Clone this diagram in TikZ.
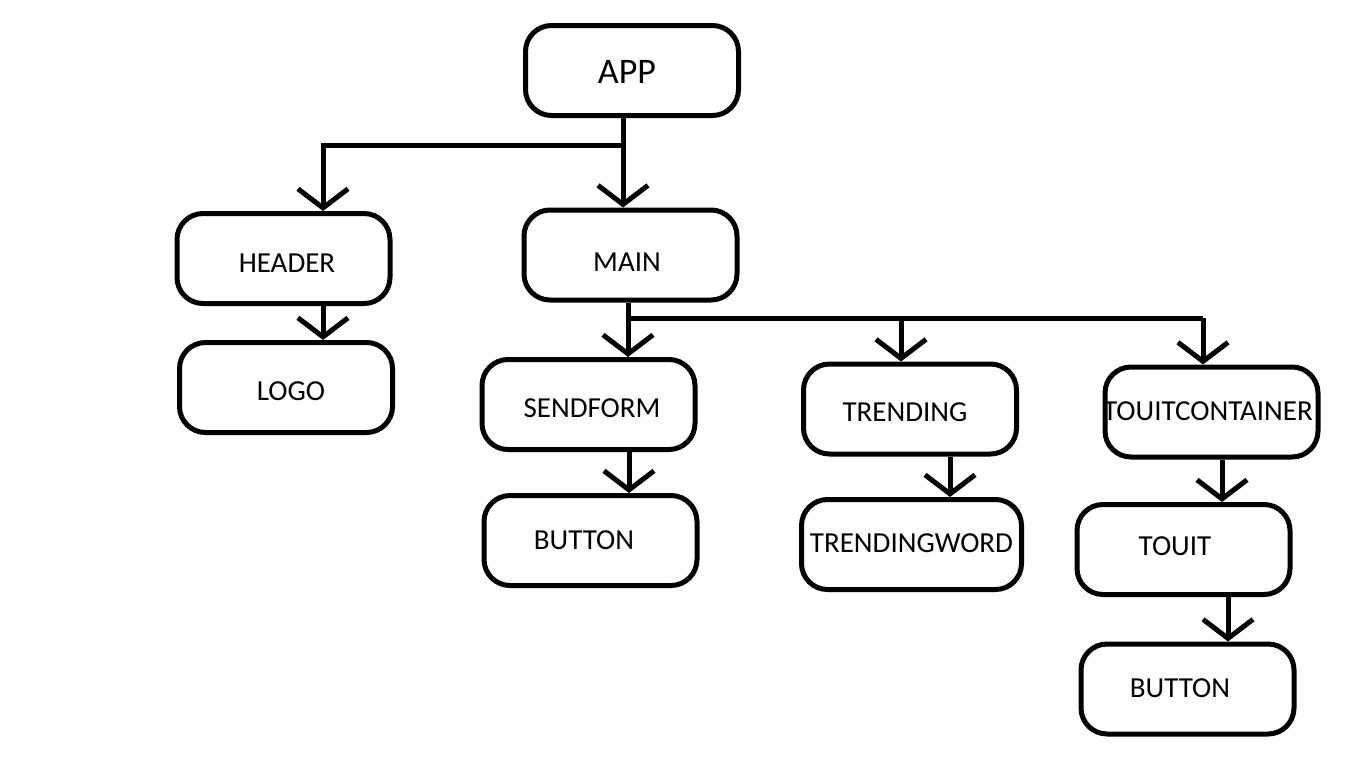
\documentclass[tikz,border=0pt]{standalone}
\usepackage{fontspec}
\setmainfont{Carlito}
\usetikzlibrary{arrows.meta}
\begin{document}
\begin{tikzpicture}[x=1pt,y=-1pt,
  box/.style={draw=black, line width=5pt, rounded corners=26pt, minimum width=213pt, minimum height=90pt, inner sep=0pt},
  txt/.style={font=\fontsize{29}{33}\selectfont, inner sep=0pt},
  bigtxt/.style={font=\fontsize{36}{40}\selectfont, inner sep=0pt},
  conn/.style={line width=5pt},
  arr/.style={conn, -{Straight Barb[length=19pt, width=50pt, line width=5pt]}}]
\useasboundingbox (0,0) rectangle (1370,761);
\fill[white] (0,0) rectangle (1370,761);
\node[box, label={[bigtxt,xshift=-5pt,yshift=-1.5pt]center:APP}] (app) at (632,70.5) {};
\node[box, label={[txt,xshift=3.5pt,yshift=-4.5pt]center:HEADER}] (header) at (283.5,258.5) {};
\node[box, label={[txt,xshift=-3.5pt,yshift=-7pt]center:MAIN}] (main) at (630.5,255) {};
\node[box, label={[txt,xshift=5pt,yshift=-3.5pt]center:LOGO}] (logo) at (286,387.5) {};
\node[box, label={[txt,xshift=3.5pt,yshift=-3.5pt]center:SENDFORM}] (sendform) at (588.5,404.5) {};
\node[box, label={[txt,xshift=-5pt,yshift=-3pt]center:TRENDING}] (trending) at (910,409) {};
\node[box, label={[txt,xshift=-3.5pt,yshift=1pt]center:TOUITCONTAINER}] (touitc) at (1211.5,412) {};
\node[box, label={[txt,xshift=-6.5pt]center:BUTTON}] (button1) at (590.5,540.5) {};
\node[box, minimum width=220pt, label={[txt,yshift=1.5pt]center:TRENDINGWORD}] (tword) at (911.5,544.5) {};
\node[box, label={[txt,xshift=-8.5pt,yshift=3.5pt]center:TOUIT}] (touit) at (1183.5,549.5) {};
\node[box, label={[txt,xshift=-7.5pt,yshift=1pt]center:BUTTON}] (button2) at (1187.5,689) {};
% junctions
\coordinate (j1) at (623,145);
\coordinate (h1) at (323,145);
\coordinate (j2) at (628,318);
\coordinate (t1) at (901,318);
\coordinate (c1) at (1203,318);
% connectors
\draw[arr] (app.south -| j1) -- (main.north -| j1);
\draw[arr] (j1) -- (h1) -- (header.north -| h1);
\draw[arr] (header.south -| h1) -- (logo.north -| h1);
\draw[arr] (main.south -| j2) -- (sendform.north -| j2);
\draw[conn] (j2) -- (c1);
\draw[arr] (t1) -- (trending.north -| t1);
\draw[arr] (c1) -- (touitc.north -| c1);
\draw[arr] ([xshift=1pt]sendform.south -| j2) -- ([xshift=1pt]button1.north -| j2);
\coordinate (t2) at (950,0);
\draw[arr] (trending.south -| t2) -- (tword.north -| t2);
\coordinate (c2) at (1222,0);
\draw[arr] (touitc.south -| c2) -- (touit.north -| c2);
\coordinate (c3) at (1228,0);
\draw[arr] (touit.south -| c3) -- (button2.north -| c3);
\end{tikzpicture}
\end{document}
